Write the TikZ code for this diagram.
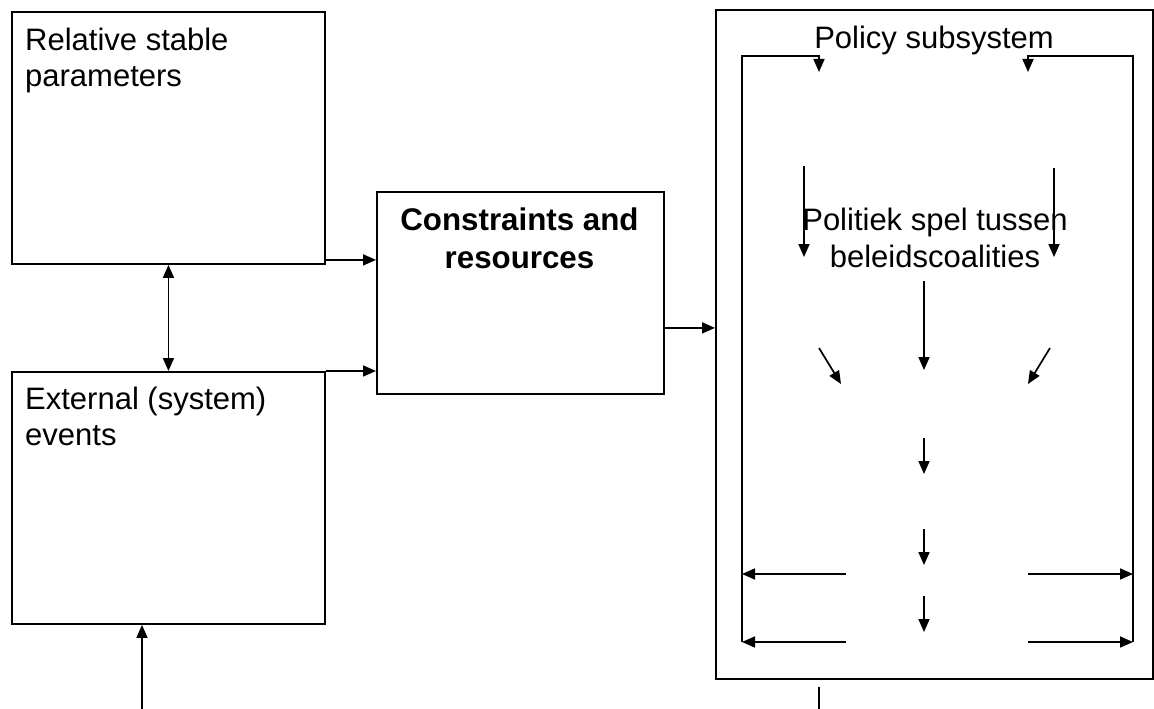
\documentclass[tikz,border=0pt]{standalone}
\usepackage{fontspec}
\setmainfont{Liberation Sans}
\usetikzlibrary{arrows.meta,calc}
\begin{document}
\begin{tikzpicture}[x=1pt,y=-1pt,
  box/.style={draw,line width=1.9pt,rectangle,inner sep=0pt,anchor=north west},
  lbl/.style={inner sep=0pt,font=\fontsize{31}{36.5}\selectfont},
  conn/.style={line width=1.7pt},
  tip/.style={},
  arr/.style={conn,-{Triangle[length=13pt,width=11pt]}},
  biarr/.style={conn,{Triangle[length=13pt,width=11pt]}-{Triangle[length=13pt,width=11pt]}}]
\useasboundingbox (0,0) rectangle (1154,709);

% left-hand boxes
\node[box,minimum width=313pt,minimum height=252pt] (rsp) at (11,11) {};
\node[lbl,anchor=north west,align=left] (rsptxt) at (25,27.5) {Relative stable\\parameters};
\node[box,minimum width=313pt,minimum height=252pt] (ext) at (11,371) {};
\node[lbl,anchor=north west,align=left] (exttxt) at (25,386.5) {External (system)\\events};

% constraints box
\node[box,minimum width=287pt,minimum height=202pt] (cr) at (376,191) {};
\node[lbl,anchor=north,align=center,font=\fontsize{31.3}{38}\selectfont\bfseries] (crtxt) at (519.5,207.5) {Constraints and\\resources};

% policy subsystem
\node[box,minimum width=437pt,minimum height=669pt] (pol) at (715,9) {};
\node[lbl,anchor=north] (poltxt) at (934,25.5) {Policy subsystem};
\node[lbl,anchor=north,align=center,font=\fontsize{31}{37}\selectfont] (game) at (935,207.5) {Politiek spel tussen\\beleidscoalities};

% connectors between the boxes
\coordinate (a1) at ($(rsp.south east)+(0,-5)$);
\draw[arr] (a1) -- (a1 -| cr.west);
\draw[arr] (ext.north east) -- (ext.north east -| cr.west);
\draw[biarr] (rsp.south) -- (ext.north);
\coordinate (evin) at (142,709);
\draw[arr] (evin) -- (evin |- ext.south);
\coordinate (c2) at ($(cr.south east)+(0,-67)$);
\draw[arr] (c2) -- (c2 -| pol.west);
\coordinate (s1) at (819,687);
\coordinate (s2) at (819,709);
\draw[conn] (s1) -- (s2);

% inner feedback frame
\coordinate (fl1) at (742,642);
\coordinate (fl2) at (742,56);
\coordinate (fl3) at (819,56);
\coordinate (fl4) at (819,72);
\coordinate (fr1) at (1133,642);
\coordinate (fr2) at (1133,56);
\coordinate (fr3) at (1028,56);
\coordinate (fr4) at (1028,72);
\draw[arr] (fl1) -- (fl2) -- (fl3) -- (fl4);
\draw[arr] (fr1) -- (fr2) -- (fr3) -- (fr4);

% arrows inside the subsystem
\coordinate (d1a) at (804,166);  \coordinate (d1b) at (804,257);
\coordinate (d2a) at (1054,168); \coordinate (d2b) at (1054,257);
\coordinate (d3a) at (924,281);  \coordinate (d3b) at (924,370);
\coordinate (g1a) at (819,348);  \coordinate (g1b) at (841,384);
\coordinate (g2a) at (1050,348); \coordinate (g2b) at (1028,384);
\coordinate (d4a) at (924,438);  \coordinate (d4b) at (924,474);
\coordinate (d5a) at (924,529);  \coordinate (d5b) at (924,565);
\coordinate (d6a) at (924,596);  \coordinate (d6b) at (924,632);
\draw[arr] (d1a) -- (d1b);
\draw[arr] (d2a) -- (d2b);
\draw[arr] (d3a) -- (d3b);
\draw[arr] (g1a) -- (g1b);
\draw[arr] (g2a) -- (g2b);
\draw[arr] (d4a) -- (d4b);
\draw[arr] (d5a) -- (d5b);
\draw[arr] (d6a) -- (d6b);

% outward arrows to the frame sides
\coordinate (h1) at (846,574);  \coordinate (h2) at (1028,574);
\coordinate (h3) at (846,642);  \coordinate (h4) at (1028,642);
\draw[arr] (h1) -- (h1 -| fl1);
\draw[arr] (h2) -- (h2 -| fr1);
\draw[arr] (h3) -- (fl1);
\draw[arr] (h4) -- (fr1);
\end{tikzpicture}
\end{document}
